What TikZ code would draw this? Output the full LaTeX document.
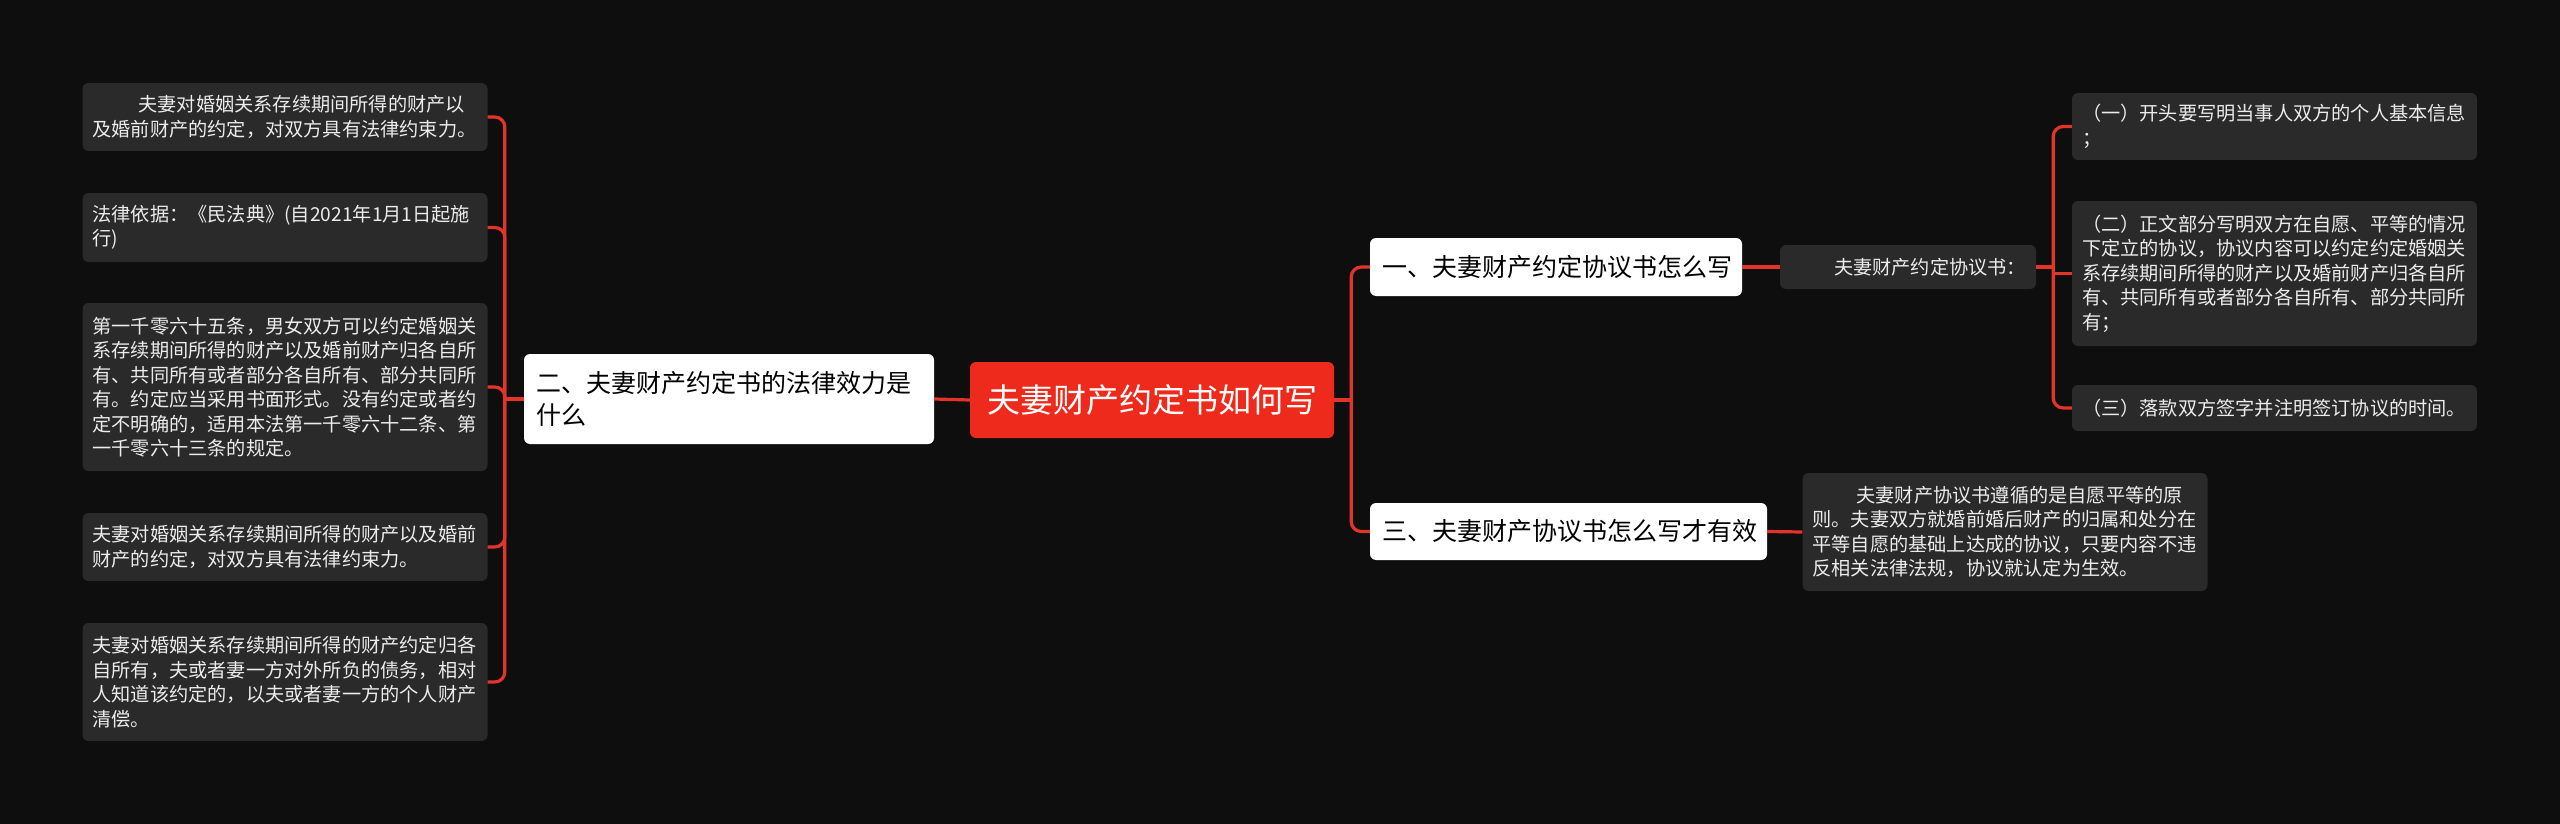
\documentclass[tikz,border=0pt]{standalone}
\usepackage{fontspec}
\setmainfont{Noto Sans CJK SC}
\definecolor{bgc}{RGB}{14,14,14}
\definecolor{leafc}{RGB}{42,42,42}
\definecolor{rootc}{RGB}{238,42,28}
\definecolor{linec}{RGB}{226,52,40}
\definecolor{leaftxt}{RGB}{236,236,236}
\begin{document}
\begin{tikzpicture}[x=1pt,y=-1pt,
  leaf/.style={fill=leafc, rounded corners=6pt, text=leaftxt, align=left,
    text width=385pt, inner xsep=10pt, inner ysep=0pt,
    font=\fontsize{19.2}{24.5}\selectfont},
  branch/.style={fill=white, rounded corners=6pt, text=black, align=left,
    inner xsep=12pt, inner ysep=0pt,
    font=\fontsize{25}{32}\selectfont},
  rootbox/.style={fill=rootc, rounded corners=6pt, text=white, align=center,
    inner sep=0pt, minimum width=364pt, minimum height=76pt,
    font=\fontsize{33}{40}\selectfont},
  conn/.style={draw=linec, line width=3.2pt, rounded corners=10pt},
  connstraight/.style={draw=linec, line width=3.2pt}]
\fill[bgc] (0,0) rectangle (2560,824);
\useasboundingbox (0,0) rectangle (2560,824);

\node[rootbox] (root) at (1152,400) {夫妻财产约定书如何写};

\node[branch, text width=386pt, minimum height=90pt] (lb) at (729,399)
  {二、夫妻财产约定书的法律效力是\\什么};
\node[branch, text width=348pt, minimum height=58pt] (b1) at (1556,267)
  {一、夫妻财产约定协议书怎么写};
\node[branch, text width=373pt, minimum height=57pt] (b3) at (1568.5,531.5)
  {三、夫妻财产协议书怎么写才有效};

\node[leaf, minimum height=68pt] (L1) at (285,117)
  {\hspace*{46pt}夫妻对婚姻关系存续期间所得的财产以\\及婚前财产的约定，对双方具有法律约束力。};
\node[leaf, minimum height=69pt] (L2) at (285,227.5)
  {法律依据：《民法典》(自2021年1月1日起施\\行)};
\node[leaf, minimum height=168pt] (L3) at (285,387)
  {第一千零六十五条，男女双方可以约定婚姻关\\系存续期间所得的财产以及婚前财产归各自所\\有、共同所有或者部分各自所有、部分共同所\\有。约定应当采用书面形式。没有约定或者约\\定不明确的，适用本法第一千零六十二条、第\\一千零六十三条的规定。};
\node[leaf, minimum height=68pt] (L4) at (285,547)
  {夫妻对婚姻关系存续期间所得的财产以及婚前\\财产的约定，对双方具有法律约束力。};
\node[leaf, minimum height=118pt] (L5) at (285,682)
  {夫妻对婚姻关系存续期间所得的财产约定归各\\自所有，夫或者妻一方对外所负的债务，相对\\人知道该约定的，以夫或者妻一方的个人财产\\清偿。};

\node[leaf, text width=236pt, minimum height=44pt] (k1) at (1908,267)
  {\hspace*{44pt}夫妻财产约定协议书：};
\node[leaf, minimum height=67pt] (r1) at (2274.5,126.5)
  {（一）开头要写明当事人双方的个人基本信息\\；};
\node[leaf, minimum height=145pt] (r2) at (2274.5,273.5)
  {（二）正文部分写明双方在自愿、平等的情况\\下定立的协议，协议内容可以约定约定婚姻关\\系存续期间所得的财产以及婚前财产归各自所\\有、共同所有或者部分各自所有、部分共同所\\有；};
\node[leaf, minimum height=46pt] (r3) at (2274.5,408)
  {（三）落款双方签字并注明签订协议的时间。};
\node[leaf, minimum height=118pt] (k3) at (2005,532)
  {\hspace*{44pt}夫妻财产协议书遵循的是自愿平等的原\\则。夫妻双方就婚前婚后财产的归属和处分在\\平等自愿的基础上达成的协议，只要内容不违\\反相关法律法规，协议就认定为生效。};

% trunk points
\coordinate (tl) at ([xshift=-19pt]lb.west);
\coordinate (tr) at ([xshift=17pt]root.east);
\coordinate (tk) at ([xshift=17pt]k1.east);

% connectors
\draw[connstraight] (root.west) -- (lb.east);
\draw[connstraight] (lb.west) -- (tl);
\foreach \t in {L1,L2,L3,L4,L5}
  \draw[conn] (tl) |- (\t.east);
\draw[connstraight] (root.east) -- (tr);
\foreach \t in {b1,b3}
  \draw[conn] (tr) |- (\t.west);
\draw[connstraight] (b1.east) -- (k1.west);
\draw[connstraight] (k1.east) -- (tk);
\foreach \t in {r1,r3}
  \draw[conn] (tk) |- (\t.west);
\draw[connstraight] (tk) |- (r2.west);
\draw[connstraight] (b3.east) -- (k3.west);
\end{tikzpicture}
\end{document}
